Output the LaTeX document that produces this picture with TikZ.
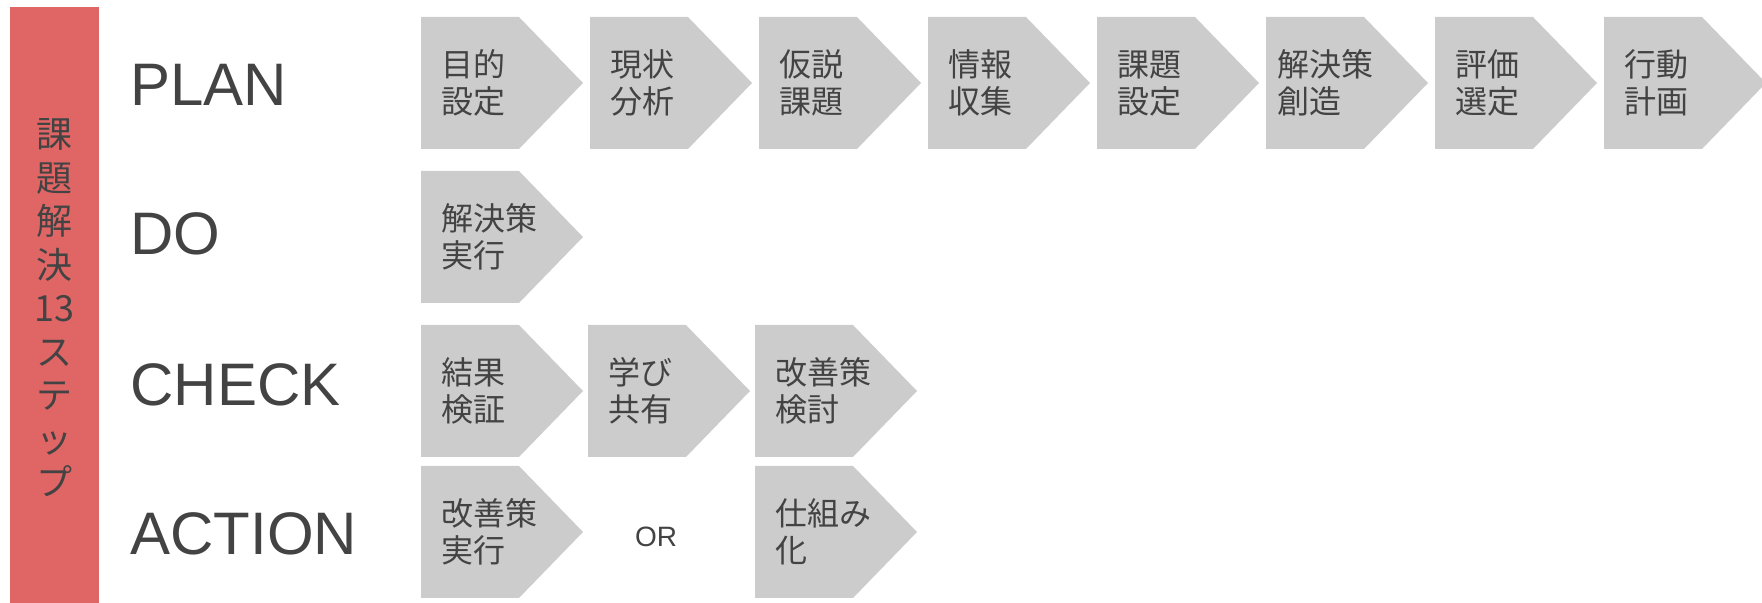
\documentclass[tikz,border=0pt]{standalone}
\usepackage{fontspec}
\setmainfont{Liberation Sans}
\newfontfamily\jpfont{Noto Sans CJK JP}
\definecolor{txtgray}{HTML}{434343}
\definecolor{chevgray}{HTML}{CCCCCC}
\definecolor{redbar}{HTML}{E06666}
\tikzset{
  chevfill/.style={fill=chevgray},
  chevtext/.style={anchor=west, inner sep=0pt, align=left, text=txtgray,
    font=\jpfont\fontsize{16}{18.5}\selectfont},
  phase/.style={anchor=base west, inner sep=0pt, text=txtgray,
    font=\fontsize{30}{35}\selectfont},
}
\newcommand\chev[5]{%
  \fill[chevfill] (#2,#3-66) -- ++(98,0) -- ++(64,66) -- ++(-64,66) -- ++(-98,0) -- cycle;
  \node[chevtext] (#1) at (#2+#5,#3) {#4};
}
\begin{document}
\begin{tikzpicture}[x=0.5pt,y=-0.5pt]
\useasboundingbox (0,0) rectangle (1762,603);
% red bar
\fill[redbar] (10,7) rectangle (99,603);
\node[align=center, inner sep=0pt, text=txtgray, font=\jpfont\fontsize{18}{21.75}\selectfont] (vt) at (54,308)
  {課\\題\\解\\決\\13\\ス\\テ\\ッ\\プ};
% phase labels
\node[phase] (plan) at (130,106) {PLAN};
\node[phase] (do) at (130,255) {DO};
\node[phase] (check) at (130,406) {CHECK};
\node[phase] (action) at (130,555) {ACTION};
% PLAN row
\chev{p1}{421}{83}{目的\\設定}{20}
\chev{p2}{590}{83}{現状\\分析}{20}
\chev{p3}{759}{83}{仮説\\課題}{20}
\chev{p4}{928}{83}{情報\\収集}{20}
\chev{p5}{1097}{83}{課題\\設定}{20}
\chev{p6}{1266}{83}{解決策\\創造}{11}
\chev{p7}{1435}{83}{評価\\選定}{20}
\chev{p8}{1604}{83}{行動\\計画}{20}
% DO row
\chev{d1}{421}{237}{解決策\\実行}{20}
% CHECK row
\chev{c1}{421}{391}{結果\\検証}{20}
\chev{c2}{588}{391}{学び\\共有}{20}
\chev{c3}{755}{391}{改善策\\検討}{20}
% ACTION row
\chev{a1}{421}{532}{改善策\\実行}{20}
\node[anchor=base, inner sep=0pt, text=txtgray, font=\fontsize{14}{16}\selectfont] (or) at (656,547) {OR};
\chev{a2}{755}{532}{仕組み\\化}{20}
\end{tikzpicture}
\end{document}
